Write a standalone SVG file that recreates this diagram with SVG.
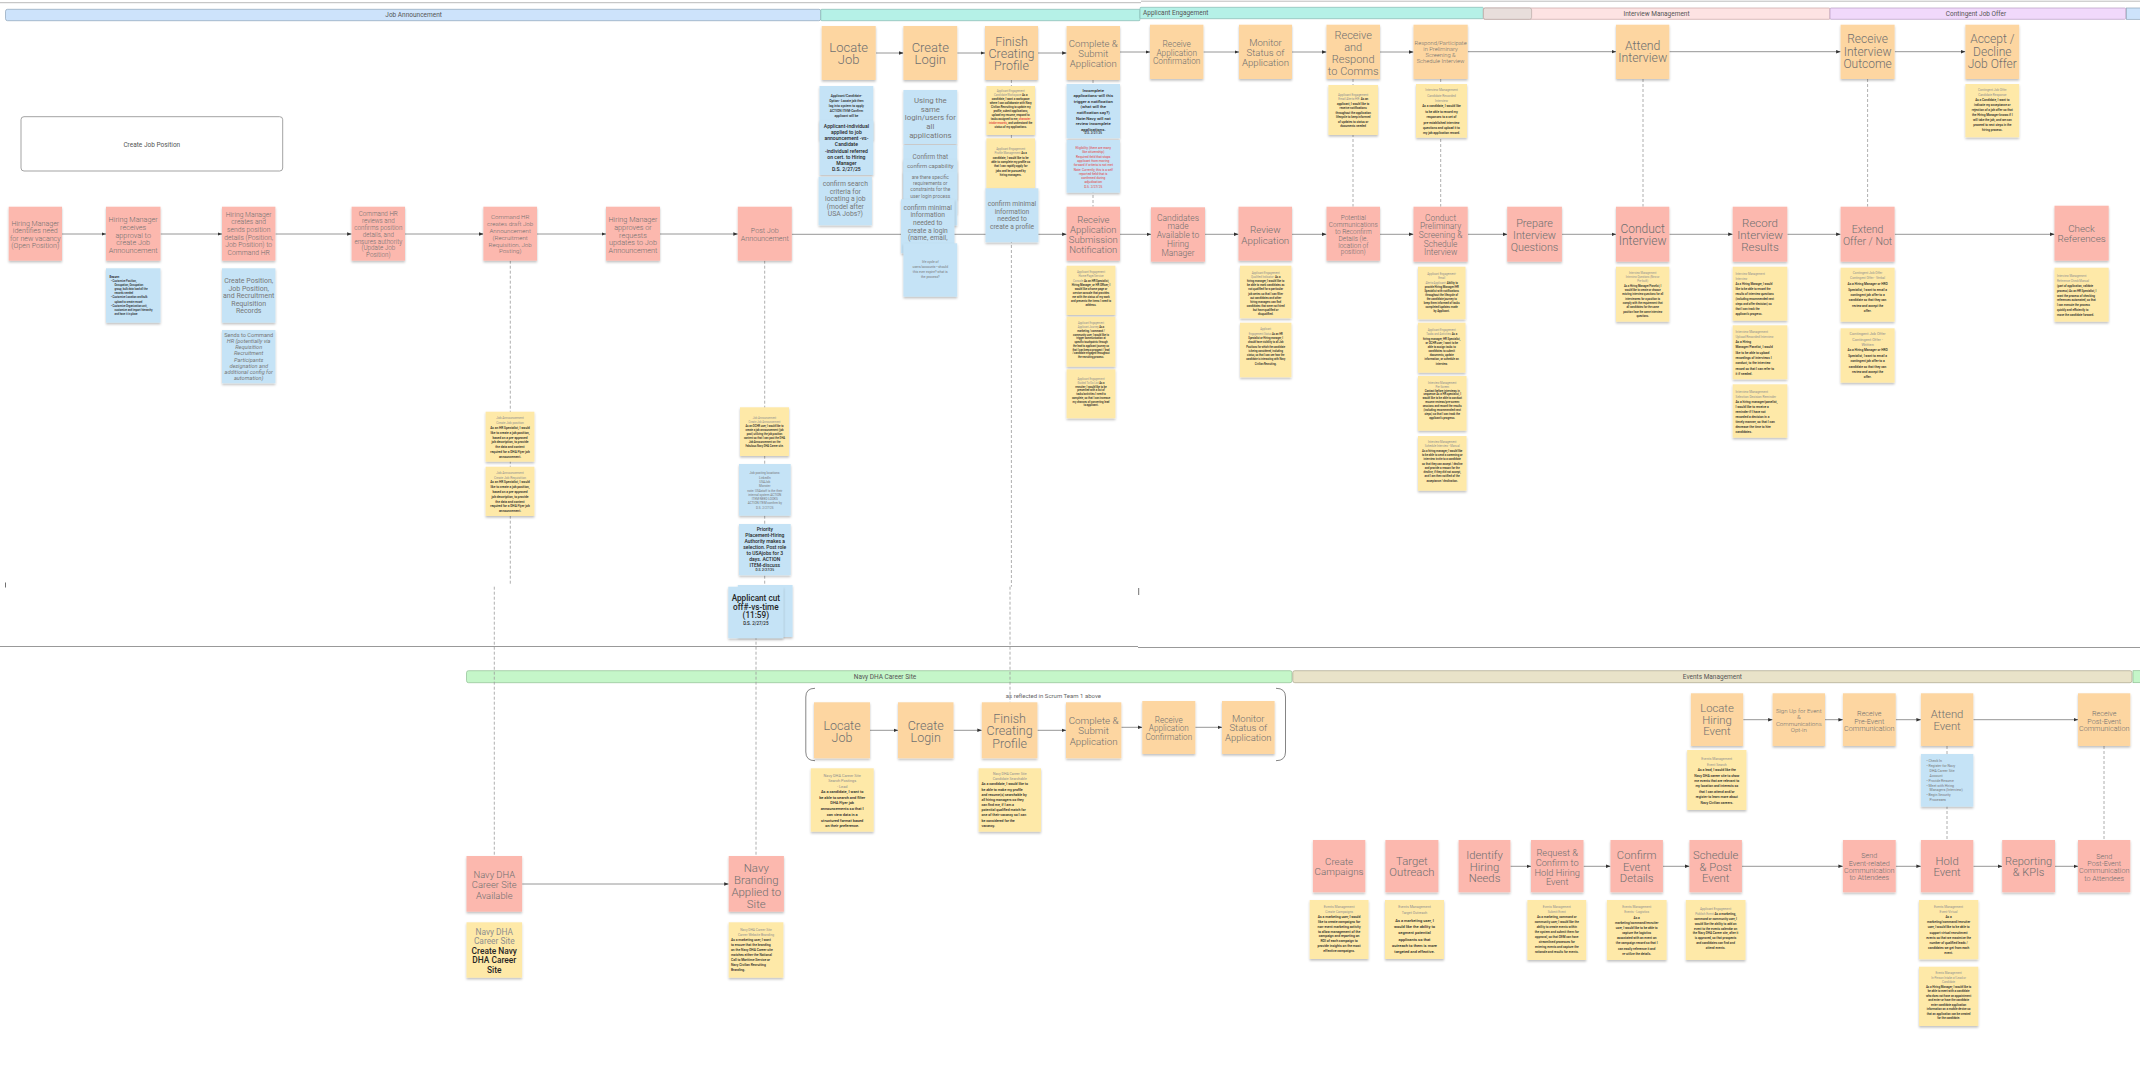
<svg xmlns="http://www.w3.org/2000/svg" width="2140" height="1080" viewBox="0 0 2140 1080">
<defs>
<filter id="sh" x="-10%" y="-10%" width="120%" height="135%"><feDropShadow dx="0" dy="1.6" stdDeviation="1" flood-color="#000" flood-opacity="0.25"/></filter>
<marker id="ah" viewBox="0 0 10 10" refX="10" refY="5" markerUnits="userSpaceOnUse" markerWidth="4.5" markerHeight="4.5" orient="auto"><path d="M0,1 L10,5 L0,9 z" fill="#333"/></marker>
</defs>
<style>
text{font-family:Roboto,'Liberation Sans',sans-serif;dominant-baseline:central;text-anchor:middle}
.o{fill:#fdd6a1;filter:url(#sh)}
.p{fill:#fcb8ae;filter:url(#sh)}
.y{fill:#fee9a8;filter:url(#sh)}
.b{fill:#c5e3f6;filter:url(#sh)}
.nt{fill:#707070;font-weight:300}
.g{fill:#777}
.k{fill:#262626;font-weight:500}
.h{fill:#8f8f8f;font-weight:400}
.r{fill:#e23b3b}
.l{text-anchor:start}
.bt{font-size:6.5px;fill:#555}
.c{fill:none;stroke:#8a8a8a;stroke-width:0.9;marker-end:url(#ah)}
.d{fill:none;stroke:#9a9a9a;stroke-width:0.8;stroke-dasharray:3 2}
</style>
<rect width="2140" height="1080" fill="#fff"/>
<g id="frame">
<line x1="0" y1="2.7" x2="1141" y2="2.7" stroke="#bbb" stroke-width="1"/>
<line x1="1141" y1="1.2" x2="2140" y2="1.2" stroke="#bbb" stroke-width="1"/>
<line x1="0" y1="646.5" x2="1138" y2="646.5" stroke="#999" stroke-width="1.1"/>
<line x1="1138" y1="647.5" x2="2140" y2="647.5" stroke="#999" stroke-width="1.1"/>
<line x1="5.5" y1="582.5" x2="5.5" y2="587.5" stroke="#333" stroke-width="0.7"/>
<line x1="1138.7" y1="588" x2="1138.7" y2="595" stroke="#333" stroke-width="0.7"/>
</g>
<g id="bands">
<rect x="5.5" y="9.3" width="815.3" height="11.4" rx="2" fill="#cde3fb" stroke="#8ea3b8" stroke-width="0.7"/>
<text class="bt" x="413.6" y="15">Job Announcement</text>
<rect x="820.8" y="9.3" width="319.2" height="11.4" rx="1" fill="#b5f1e7" stroke="#86b9b1" stroke-width="0.7"/>
<rect x="1140" y="7.3" width="343.4" height="11.4" rx="1" fill="#b5f1e7" stroke="#86b9b1" stroke-width="0.7"/>
<text class="bt l" x="1143" y="13">Applicant Engagement</text>
<rect x="1483.4" y="8" width="346.6" height="11.3" rx="1" fill="#fde3e3" stroke="#c9a3a3" stroke-width="0.7"/>
<rect x="1483.4" y="8" width="48.2" height="11.3" rx="2" fill="#e8dedb" stroke="#b8aaa6" stroke-width="0.7"/>
<text class="bt" x="1656.5" y="13.6">Interview Management</text>
<rect x="1830" y="8" width="295.7" height="11.3" rx="1" fill="#f1d9fb" stroke="#b69cc2" stroke-width="0.7"/>
<text class="bt" x="1976" y="13.6">Contingent Job Offer</text>
<rect x="2126.5" y="8" width="14" height="11.3" fill="#cde3fb" stroke="#8ea3b8" stroke-width="0.7"/>
<rect x="466.5" y="670.7" width="825.5" height="12" rx="2" fill="#c5f6c9" stroke="#8fbf93" stroke-width="0.7"/>
<text class="bt" x="885" y="676.7">Navy DHA Career Site</text>
<rect x="1292.8" y="670.7" width="839.2" height="12" rx="2" fill="#e9e3c9" stroke="#aaa58c" stroke-width="0.7"/>
<text class="bt" x="1712.4" y="676.7">Events Management</text>
<rect x="2133" y="670.7" width="8" height="12" fill="#c5f6c9" stroke="#8fbf93" stroke-width="0.7"/>
<rect x="21" y="116.7" width="261.7" height="54.3" rx="3" fill="#fff" stroke="#999" stroke-width="0.9"/>
<text class="bt" x="151.8" y="144.7">Create Job Position</text>
<path d="M815 688.3 Q805.8 688.3 805.8 697 L805.8 752 Q805.8 760.7 815 760.7 M1276 688.3 Q1285.5 688.3 1285.5 697 L1285.5 752 Q1285.5 760.7 1276 760.7" fill="none" stroke="#777" stroke-width="0.9"/>
<text x="1053.4" y="695.7" font-size="6" fill="#666">as reflected in Scrum Team 1 above</text>
</g>
<g id="connectors">
<path class="c" d="M876 53H903.4"/>
<path class="c" d="M957.2 53H985"/>
<path class="c" d="M1038 53H1066.6"/>
<path class="c" d="M1120 52H1150"/>
<path class="c" d="M1203.4 52H1239"/>
<path class="c" d="M1292 52H1326.5"/>
<path class="c" d="M1380 52H1413.5"/>
<path class="c" d="M1467.7 51.7H1616"/>
<path class="c" d="M1669.3 51.7H1840.6"/>
<path class="c" d="M1894.7 51.7H1965.4"/>
<path class="c" d="M62 234H106"/>
<path class="c" d="M160.5 234H222"/>
<path class="c" d="M275.4 234H351.6"/>
<path class="c" d="M405 234H483.4"/>
<path class="c" d="M537 234H606"/>
<path class="c" d="M660 234H737.8"/>
<path class="c" d="M791.7 234.3H1066.6"/>
<path class="c" d="M1120 234.3H1151"/>
<path class="c" d="M1205 234.3H1238.5"/>
<path class="c" d="M1292 234.3H1326.5"/>
<path class="c" d="M1380 234.3H1413.5"/>
<path class="c" d="M1467.7 234.3H1507.2"/>
<path class="c" d="M1561.9 234.3H1616"/>
<path class="c" d="M1669.3 234.3H1732.7"/>
<path class="c" d="M1787.3 234.3H1840.6"/>
<path class="c" d="M1894.7 234.3H2054.5"/>
<path class="c" d="M522.1 884H728.7" stroke="#bbb"/>
<path class="c" d="M870 730.3H898"/>
<path class="c" d="M953.5 730.3H981.8"/>
<path class="c" d="M1037.4 730.3H1066"/>
<path class="c" d="M1121.3 727.3H1142.3"/>
<path class="c" d="M1195.2 727.3H1222"/>
<path class="c" d="M1510.4 866.3H1531"/>
<path class="c" d="M1583.5 866.3H1610.5"/>
<path class="c" d="M1662.9 866.3H1689.5"/>
<path class="c" d="M1741.9 866.3H1842.9"/>
<path class="c" d="M1895.7 866.3H1920.9"/>
<path class="c" d="M1973.3 866.3H2002.2"/>
<path class="c" d="M2055 866.3H2078"/>
<path class="c" d="M1743.2 719.7H1772.6"/>
<path class="c" d="M1825 719.7H1842.9"/>
<path class="c" d="M1895.7 719.7H1920.9"/>
<path class="c" d="M1973.3 719.7H2078"/>
<path class="d" d="M510.3 260.7V585"/>
<path class="d" d="M494.3 586.7V856"/>
<path class="d" d="M764.7 260.7V586.7"/>
<path class="d" d="M756 586.7V856"/>
<path class="d" d="M1011.4 80V586.7"/>
<path class="d" d="M1010 586.7V702.3"/>
<path class="d" d="M1093 80V206.7"/>
<path class="d" d="M1353 79V206.7"/>
<path class="d" d="M1440.7 79V206.7"/>
<path class="d" d="M1643 79V206.7"/>
<path class="d" d="M1867.6 79V206.7"/>
<path class="d" d="M1947 746V840"/>
<path class="d" d="M2104 746V840"/>
</g>
<g id="n-locate-job"><rect class="o" x="821.7" y="26" width="54" height="54"/><text class="nt" font-size="13"><tspan x="848.7" y="47.3">Locate</tspan><tspan x="848.7" y="59">Job</tspan></text></g>
<g id="n-create-login"><rect class="o" x="903.4" y="26" width="53.8" height="54"/><text class="nt" font-size="13"><tspan x="930.3" y="47.3">Create</tspan><tspan x="930.3" y="59">Login</tspan></text></g>
<g id="n-finish-profile"><rect class="o" x="985" y="26" width="53" height="54"/><text class="nt" font-size="12.5"><tspan x="1011.5" y="40.7">Finish</tspan><tspan x="1011.5" y="53">Creating</tspan><tspan x="1011.5" y="64.7">Profile</tspan></text></g>
<g id="n-complete-submit"><rect class="o" x="1066.6" y="26" width="53.4" height="54"/><text class="nt" font-size="9.6"><tspan x="1093.3" y="43">Complete &amp;</tspan><tspan x="1093.3" y="53">Submit</tspan><tspan x="1093.3" y="63.3">Application</tspan></text></g>
<g id="n-receive-conf"><rect class="o" x="1150" y="24.7" width="53.4" height="54.3"/><text class="nt" font-size="8.3"><tspan x="1176.7" y="44.3">Receive</tspan><tspan x="1176.7" y="52.7">Application</tspan><tspan x="1176.7" y="61.3">Confirmation</tspan></text></g>
<g id="n-monitor"><rect class="o" x="1239" y="24.7" width="53" height="54.3"/><text class="nt" font-size="9.6"><tspan x="1265.5" y="41.7">Monitor</tspan><tspan x="1265.5" y="52">Status of</tspan><tspan x="1265.5" y="62">Application</tspan></text></g>
<g id="n-respond-comms"><rect class="o" x="1326.5" y="24.7" width="53.5" height="54.3"/><text class="nt" font-size="11"><tspan x="1353.2" y="35">Receive</tspan><tspan x="1353.2" y="47.3">and</tspan><tspan x="1353.2" y="59.3">Respond</tspan><tspan x="1353.2" y="71.3">to Comms</tspan></text></g>
<g id="n-respond-participate"><rect class="o" x="1413.5" y="24.7" width="54.2" height="54.3"/><text class="nt" font-size="5.8"><tspan x="1440.6" y="42.7">Respond/Participate</tspan><tspan x="1440.6" y="49">in Preliminary</tspan><tspan x="1440.6" y="55.3">Screening &amp;</tspan><tspan x="1440.6" y="61.3">Schedule Interview</tspan></text></g>
<g id="n-attend-interview"><rect class="o" x="1616" y="24.7" width="53.3" height="54.3"/><text class="nt" font-size="12.3"><tspan x="1642.7" y="46">Attend</tspan><tspan x="1642.7" y="58">Interview</tspan></text></g>
<g id="n-receive-outcome"><rect class="o" x="1840.6" y="24.7" width="54" height="54.3"/><text class="nt" font-size="12"><tspan x="1867.6" y="39.3">Receive</tspan><tspan x="1867.6" y="51.7">Interview</tspan><tspan x="1867.6" y="63.7">Outcome</tspan></text></g>
<g id="n-accept-decline"><rect class="o" x="1965.4" y="24.7" width="53.8" height="54.3"/><text class="nt" font-size="12"><tspan x="1992.3" y="39.3">Accept /</tspan><tspan x="1992.3" y="51.7">Decline</tspan><tspan x="1992.3" y="63.7">Job Offer</tspan></text></g>
<g id="n-hm-identifies"><rect class="p" x="8.7" y="206.7" width="53.3" height="54"/><text class="nt" font-size="7.1"><tspan x="35.3" y="222.7">Hiring Manager</tspan><tspan x="35.3" y="230.3">identifies need</tspan><tspan x="35.3" y="237.7">for new vacancy</tspan><tspan x="35.3" y="245.3">(Open Position)</tspan></text></g>
<g id="n-hm-receives"><rect class="p" x="106" y="206.7" width="54.5" height="54"/><text class="nt" font-size="7.3"><tspan x="133.2" y="219.3">Hiring Manager</tspan><tspan x="133.2" y="227">receives</tspan><tspan x="133.2" y="234.7">approval to</tspan><tspan x="133.2" y="242.3">create Job</tspan><tspan x="133.2" y="250">Announcement</tspan></text></g>
<g id="n-hm-creates"><rect class="p" x="222" y="206.7" width="53.4" height="54"/><text class="nt" font-size="6.8"><tspan x="248.7" y="215">Hiring Manager</tspan><tspan x="248.7" y="222.3">creates and</tspan><tspan x="248.7" y="230">sends position</tspan><tspan x="248.7" y="237.7">details (Position,</tspan><tspan x="248.7" y="245.3">Job Position) to</tspan><tspan x="248.7" y="252.7">Command HR</tspan></text></g>
<g id="n-chr-reviews"><rect class="p" x="351.6" y="206.7" width="53.4" height="54"/><text class="nt" font-size="6.3"><tspan x="378.3" y="214.3">Command HR</tspan><tspan x="378.3" y="221.2">reviews and</tspan><tspan x="378.3" y="228">confirms position</tspan><tspan x="378.3" y="234.7">details, and</tspan><tspan x="378.3" y="241.6">ensures authority</tspan><tspan x="378.3" y="248.3">(Update Job</tspan><tspan x="378.3" y="255">Position)</tspan></text></g>
<g id="n-chr-draft"><rect class="p" x="483.4" y="206.7" width="53.6" height="54"/><text class="nt" font-size="6.2"><tspan x="510.2" y="217.3">Command HR</tspan><tspan x="510.2" y="224.2">creates draft Job</tspan><tspan x="510.2" y="231">Announcement</tspan><tspan x="510.2" y="237.8">(Recruitment</tspan><tspan x="510.2" y="244.6">Requisition, Job</tspan><tspan x="510.2" y="251.4">Posting)</tspan></text></g>
<g id="n-hm-approves"><rect class="p" x="606" y="206.7" width="54" height="54"/><text class="nt" font-size="7.3"><tspan x="633" y="219.3">Hiring Manager</tspan><tspan x="633" y="227">approves or</tspan><tspan x="633" y="234.7">requests</tspan><tspan x="633" y="242.3">updates to Job</tspan><tspan x="633" y="250">Announcement</tspan></text></g>
<g id="n-post-job"><rect class="p" x="737.8" y="206.7" width="54" height="54"/><text class="nt" font-size="7.2"><tspan x="764.8" y="230">Post Job</tspan><tspan x="764.8" y="237.7">Announcement</tspan></text></g>
<g id="n-receive-submission"><rect class="p" x="1066.6" y="206.7" width="53.4" height="54"/><text class="nt" font-size="9.5"><tspan x="1093.3" y="219">Receive</tspan><tspan x="1093.3" y="229.3">Application</tspan><tspan x="1093.3" y="239.3">Submission</tspan><tspan x="1093.3" y="249.3">Notification</tspan></text></g>
<g id="n-candidates"><rect class="p" x="1151" y="207.3" width="54" height="54.4"/><text class="nt" font-size="8.5"><tspan x="1178" y="217.7">Candidates</tspan><tspan x="1178" y="226.4">made</tspan><tspan x="1178" y="235">Available to</tspan><tspan x="1178" y="243.8">Hiring</tspan><tspan x="1178" y="252.6">Manager</tspan></text></g>
<g id="n-review-app"><rect class="p" x="1238.5" y="206.7" width="53.5" height="54"/><text class="nt" font-size="9.8"><tspan x="1265.3" y="229.3">Review</tspan><tspan x="1265.3" y="239.7">Application</tspan></text></g>
<g id="n-potential"><rect class="p" x="1326.5" y="206.7" width="53.5" height="54"/><text class="nt" font-size="6.5"><tspan x="1353.3" y="218.3">Potential</tspan><tspan x="1353.3" y="225">Communications</tspan><tspan x="1353.3" y="231.7">to Reconfirm</tspan><tspan x="1353.3" y="238.7">Details (ie.</tspan><tspan x="1353.3" y="245.7">location of</tspan><tspan x="1353.3" y="252.3">position)</tspan></text></g>
<g id="n-conduct-prelim"><rect class="p" x="1413.5" y="206.7" width="54.2" height="55"/><text class="nt" font-size="8.4"><tspan x="1440.6" y="217.7">Conduct</tspan><tspan x="1440.6" y="226.3">Preliminary</tspan><tspan x="1440.6" y="235">Screening &amp;</tspan><tspan x="1440.6" y="243.7">Schedule</tspan><tspan x="1440.6" y="252.3">Interview</tspan></text></g>
<g id="n-prepare"><rect class="p" x="1507.2" y="206.7" width="54.7" height="55"/><text class="nt" font-size="10.8"><tspan x="1534.5" y="222.7">Prepare</tspan><tspan x="1534.5" y="234.7">Interview</tspan><tspan x="1534.5" y="246.7">Questions</tspan></text></g>
<g id="n-conduct-interview"><rect class="p" x="1616" y="206.7" width="53.3" height="55"/><text class="nt" font-size="12"><tspan x="1642.7" y="228.7">Conduct</tspan><tspan x="1642.7" y="240.7">Interview</tspan></text></g>
<g id="n-record"><rect class="p" x="1732.7" y="206.7" width="54.6" height="55"/><text class="nt" font-size="11.5"><tspan x="1760" y="222.7">Record</tspan><tspan x="1760" y="234.7">Interview</tspan><tspan x="1760" y="246.7">Results</tspan></text></g>
<g id="n-extend"><rect class="p" x="1840.6" y="206.7" width="54" height="55"/><text class="nt" font-size="10.6"><tspan x="1867.6" y="228.7">Extend</tspan><tspan x="1867.6" y="240.7">Offer / Not</tspan></text></g>
<g id="n-check-ref"><rect class="p" x="2054.5" y="205.7" width="54.2" height="55"/><text class="nt" font-size="9.8"><tspan x="2081.6" y="227.7">Check</tspan><tspan x="2081.6" y="237.7">References</tspan></text></g>
<g id="n-navy-available"><rect class="p" x="466.5" y="856" width="55.6" height="55.7"/><text class="nt" font-size="9.4"><tspan x="494.3" y="874">Navy DHA</tspan><tspan x="494.3" y="884.3">Career Site</tspan><tspan x="494.3" y="894.7">Available</tspan></text></g>
<g id="n-navy-branding"><rect class="p" x="728.7" y="856" width="55.2" height="55.7"/><text class="nt" font-size="11.4"><tspan x="756.3" y="867.7">Navy</tspan><tspan x="756.3" y="879.7">Branding</tspan><tspan x="756.3" y="891.7">Applied to</tspan><tspan x="756.3" y="904">Site</tspan></text></g>
<g id="n2-locate-job"><rect class="o" x="814" y="702.3" width="56" height="56"/><text class="nt" font-size="12.5"><tspan x="842" y="724.7">Locate</tspan><tspan x="842" y="736.7">Job</tspan></text></g>
<g id="n2-create-login"><rect class="o" x="898" y="702.3" width="55.5" height="56"/><text class="nt" font-size="12.5"><tspan x="925.7" y="724.7">Create</tspan><tspan x="925.7" y="736.7">Login</tspan></text></g>
<g id="n2-finish-profile"><rect class="o" x="981.8" y="702.3" width="55.6" height="56"/><text class="nt" font-size="12.5"><tspan x="1009.6" y="718.3">Finish</tspan><tspan x="1009.6" y="730.3">Creating</tspan><tspan x="1009.6" y="742.7">Profile</tspan></text></g>
<g id="n2-complete-submit"><rect class="o" x="1066" y="702.3" width="55.3" height="56"/><text class="nt" font-size="9.8"><tspan x="1093.6" y="720.3">Complete &amp;</tspan><tspan x="1093.6" y="730.3">Submit</tspan><tspan x="1093.6" y="741">Application</tspan></text></g>
<g id="n2-receive-conf"><rect class="o" x="1142.3" y="701" width="53" height="53"/><text class="nt" font-size="8.2"><tspan x="1168.8" y="720">Receive</tspan><tspan x="1168.8" y="728.3">Application</tspan><tspan x="1168.8" y="736.7">Confirmation</tspan></text></g>
<g id="n2-monitor"><rect class="o" x="1222" y="701" width="52.6" height="53"/><text class="nt" font-size="9.5"><tspan x="1248.3" y="717.7">Monitor</tspan><tspan x="1248.3" y="727.3">Status of</tspan><tspan x="1248.3" y="737.3">Application</tspan></text></g>
<g id="n-create-campaigns"><rect class="p" x="1312.9" y="840" width="52.4" height="52.3"/><text class="nt" font-size="9.8"><tspan x="1339.1" y="861">Create</tspan><tspan x="1339.1" y="871">Campaigns</tspan></text></g>
<g id="n-target-outreach"><rect class="p" x="1385.4" y="840" width="53" height="52.3"/><text class="nt" font-size="11.3"><tspan x="1411.9" y="861">Target</tspan><tspan x="1411.9" y="872.3">Outreach</tspan></text></g>
<g id="n-identify"><rect class="p" x="1458.6" y="840" width="51.8" height="52.3"/><text class="nt" font-size="11.3"><tspan x="1484.5" y="855">Identify</tspan><tspan x="1484.5" y="866.7">Hiring</tspan><tspan x="1484.5" y="878">Needs</tspan></text></g>
<g id="n-request-confirm"><rect class="p" x="1531" y="840" width="52.5" height="52.3"/><text class="nt" font-size="9.3"><tspan x="1557.2" y="852.3">Request &amp;</tspan><tspan x="1557.2" y="862">Confirm to</tspan><tspan x="1557.2" y="871.7">Hold Hiring</tspan><tspan x="1557.2" y="881.3">Event</tspan></text></g>
<g id="n-confirm-details"><rect class="p" x="1610.5" y="840" width="52.4" height="52.3"/><text class="nt" font-size="11.3"><tspan x="1636.7" y="855">Confirm</tspan><tspan x="1636.7" y="866.7">Event</tspan><tspan x="1636.7" y="878">Details</tspan></text></g>
<g id="n-schedule-post"><rect class="p" x="1689.5" y="840" width="52.4" height="52.3"/><text class="nt" font-size="11.3"><tspan x="1715.7" y="855">Schedule</tspan><tspan x="1715.7" y="866.7">&amp; Post</tspan><tspan x="1715.7" y="878">Event</tspan></text></g>
<g id="n-send-event-comm"><rect class="p" x="1842.9" y="840" width="52.8" height="52.3"/><text class="nt" font-size="7.2"><tspan x="1869.3" y="855.3">Send</tspan><tspan x="1869.3" y="862.7">Event-related</tspan><tspan x="1869.3" y="870">Communication</tspan><tspan x="1869.3" y="877.3">to Attendees</tspan></text></g>
<g id="n-hold-event"><rect class="p" x="1920.9" y="840" width="52.4" height="52.3"/><text class="nt" font-size="11.3"><tspan x="1947.1" y="861">Hold</tspan><tspan x="1947.1" y="872.3">Event</tspan></text></g>
<g id="n-reporting"><rect class="p" x="2002.2" y="840" width="52.8" height="52.3"/><text class="nt" font-size="11"><tspan x="2028.6" y="861">Reporting</tspan><tspan x="2028.6" y="872.3">&amp; KPIs</tspan></text></g>
<g id="n-send-post"><rect class="p" x="2078" y="840" width="52.3" height="52.3"/><text class="nt" font-size="7.2"><tspan x="2104.2" y="855.7">Send</tspan><tspan x="2104.2" y="863">Post-Event</tspan><tspan x="2104.2" y="870.3">Communication</tspan><tspan x="2104.2" y="877.7">to Attendees</tspan></text></g>
<g id="n-locate-hiring-event"><rect class="o" x="1690.9" y="693.3" width="52.3" height="52.7"/><text class="nt" font-size="11.3"><tspan x="1717" y="708">Locate</tspan><tspan x="1717" y="719.7">Hiring</tspan><tspan x="1717" y="731.3">Event</tspan></text></g>
<g id="n-sign-up"><rect class="o" x="1772.6" y="693.3" width="52.4" height="52.7"/><text class="nt" font-size="6.1"><tspan x="1798.8" y="710">Sign Up for Event</tspan><tspan x="1798.8" y="716.3">&amp;</tspan><tspan x="1798.8" y="723">Communications</tspan><tspan x="1798.8" y="729.3">Opt-in</tspan></text></g>
<g id="n-receive-pre"><rect class="o" x="1842.9" y="693.3" width="52.8" height="52.7"/><text class="nt" font-size="7.2"><tspan x="1869.3" y="713">Receive</tspan><tspan x="1869.3" y="720.7">Pre-Event</tspan><tspan x="1869.3" y="728">Communication</tspan></text></g>
<g id="n-attend-event"><rect class="o" x="1920.9" y="693.3" width="52.4" height="52.7"/><text class="nt" font-size="11.3"><tspan x="1947.1" y="714">Attend</tspan><tspan x="1947.1" y="725.7">Event</tspan></text></g>
<g id="n-receive-post"><rect class="o" x="2078" y="693.3" width="52.3" height="52.7"/><text class="nt" font-size="7.2"><tspan x="2104.2" y="713">Receive</tspan><tspan x="2104.2" y="720.7">Post-Event</tspan><tspan x="2104.2" y="728">Communication</tspan></text></g>
<g id="s1"><rect class="b" x="106" y="268.3" width="54.5" height="54.4"/><text class="k l" font-size="2.7"><tspan x="109.5" y="276.5" font-weight="700" font-size="3">Ensure:</tspan><tspan x="111" y="281">• Customize Position,</tspan><tspan x="114.5" y="285.1">Occupation, Occupation</tspan><tspan x="114.5" y="289.2">group, bulk data load all the</tspan><tspan x="114.5" y="293.3">records needed</tspan><tspan x="111" y="297.4">• Customize Location and bulk</tspan><tspan x="114.5" y="301.5">upload to create record</tspan><tspan x="111" y="305.6">• Customize Organization unit,</tspan><tspan x="114.5" y="309.7">customize and import hierarchy</tspan><tspan x="114.5" y="313.8">and have it in place</tspan></text></g>
<g id="s2"><rect class="b" x="222" y="268.3" width="53.4" height="54.4"/><text class="g" font-size="7"><tspan x="248.7" y="281">Create Position,</tspan><tspan x="248.7" y="288.7">Job Position,</tspan><tspan x="248.7" y="296.3">and Recruitment</tspan><tspan x="248.7" y="303.7">Requisition</tspan><tspan x="248.7" y="311.3">Records</tspan></text></g>
<g id="s3"><rect class="b" x="222" y="330" width="53.4" height="53.3"/><text class="g" font-size="5.6"><tspan x="248.7" y="335">Sends to Command</tspan><tspan x="248.7" y="341.3" font-style="italic">HR (potentially via</tspan><tspan x="248.7" y="347.3" font-style="italic">Requisition</tspan><tspan x="248.7" y="353.3" font-style="italic">Recruitment</tspan><tspan x="248.7" y="359.7" font-style="italic">Participants</tspan><tspan x="248.7" y="365.7" font-style="italic">designation and</tspan><tspan x="248.7" y="371.7" font-style="italic">additional config for</tspan><tspan x="248.7" y="377.7" font-style="italic">automation)</tspan></text></g>
<g id="s4"><rect class="y" x="485.6" y="411.7" width="48.8" height="50"/><text class="k" font-size="3.2"><tspan class="h" x="510" y="418.3">Job Announcement</tspan><tspan class="h" x="510" y="423">Create Job position</tspan><tspan x="510" y="428">As an HR Specialist, I would</tspan><tspan x="510" y="432.7">like to create a job position,</tspan><tspan x="510" y="437.7">based on a pre-approved</tspan><tspan x="510" y="442.3">job description, to provide</tspan><tspan x="510" y="447">the data and content</tspan><tspan x="510" y="452">required for a DHA Flyer job</tspan><tspan x="510" y="456.7">announcement.</tspan></text></g>
<g id="s5"><rect class="y" x="485.6" y="466.7" width="48.8" height="49.3"/><text class="k" font-size="3.2"><tspan class="h" x="510" y="472.7">Job Announcement</tspan><tspan class="h" x="510" y="477.5">Create Job Requisition</tspan><tspan x="510" y="482.3">As an HR Specialist, I would</tspan><tspan x="510" y="487.1">like to create a job position,</tspan><tspan x="510" y="491.9">based on a pre-approved</tspan><tspan x="510" y="496.7">job description, to provide</tspan><tspan x="510" y="501.5">the data and content</tspan><tspan x="510" y="506.3">required for a DHA Flyer job</tspan><tspan x="510" y="511.1">announcement.</tspan></text></g>
<g id="s6"><rect class="y" x="740" y="407.3" width="49" height="48.7"/><text class="k" font-size="2.7"><tspan class="h" x="764.5" y="418.3">Job Announcement</tspan><tspan class="h" x="764.5" y="422.2">Create Job Announcement</tspan><tspan x="764.5" y="426.1">As an OCHR user, I would like to</tspan><tspan x="764.5" y="430">create a job announcement (job</tspan><tspan x="764.5" y="433.9">post) utilizing the job position</tspan><tspan x="764.5" y="437.8">content so that I can post the DHA</tspan><tspan x="764.5" y="441.7">Job Announcement on the</tspan><tspan x="764.5" y="445.6">Fabulous Navy DHA Career site.</tspan></text></g>
<g id="s7"><rect class="b" x="739" y="464" width="51.7" height="51.7"/><text class="g" font-size="3.1"><tspan x="764.8" y="473.3">Job posting locations:</tspan><tspan x="764.8" y="477.6">LinkedIn</tspan><tspan x="764.8" y="481.9">USAJob</tspan><tspan x="764.8" y="486.2">Monster</tspan><tspan x="764.8" y="490.5">note: USAstaff is the their</tspan><tspan x="764.8" y="494.8">internal system ACTION</tspan><tspan x="764.8" y="499.1">ITEM-NEED LOOKS</tspan><tspan x="764.8" y="503.4">ACTION ITEM confirm by</tspan><tspan x="764.8" y="507.7">D.S. 2/27/25</tspan></text></g>
<g id="s8"><rect class="b" x="739" y="524" width="51.7" height="51.3"/><text class="k" font-size="5" font-weight="400"><tspan x="764.8" y="529.3">Priority</tspan><tspan x="764.8" y="535.3">Placement-Hiring</tspan><tspan x="764.8" y="541.3">Authority makes a</tspan><tspan x="764.8" y="547.3">selection. Post role</tspan><tspan x="764.8" y="553">to USAjobs for 3</tspan><tspan x="764.8" y="559">days. ACTION</tspan><tspan x="764.8" y="565">ITEM-discuss</tspan><tspan x="764.8" y="570.3" font-size="3.3">D.S. 2/27/25</tspan></text></g>
<g id="s9"><rect class="b" x="737.8" y="585" width="54.8" height="52"/></g>
<g id="s10"><rect class="b" x="728.3" y="586.7" width="55.1" height="51.6"/><text class="k" font-size="8.2" font-weight="400"><tspan x="755.8" y="597.7">Applicant cut</tspan><tspan x="755.8" y="606.7">off#-vs-time</tspan><tspan x="755.8" y="615">(11:59)</tspan><tspan x="755.8" y="623.3" font-size="4.5">D.S. 2/27/25</tspan></text></g>
<g id="s11"><rect class="b" x="819.5" y="86" width="53.8" height="54"/><text class="k" font-size="3.3"><tspan x="846.4" y="95.7">Applicant/Candidate-</tspan><tspan x="846.4" y="100.7">Option- Locate job then</tspan><tspan x="846.4" y="105.7">log into system to apply</tspan><tspan x="846.4" y="110.7">ACTION ITEM-Confirm</tspan><tspan x="846.4" y="116">applicant will be</tspan></text></g>
<g id="s12"><rect class="b" x="819.5" y="120.7" width="53.8" height="54.3"/><text class="k" font-size="5.1"><tspan x="846.4" y="126.3">Applicant-individual</tspan><tspan x="846.4" y="132.3">applied to job</tspan><tspan x="846.4" y="138.3">announcement -vs-</tspan><tspan x="846.4" y="144.3">Candidate</tspan><tspan x="846.4" y="150.7">-individual referred</tspan><tspan x="846.4" y="156.7">on cert. to Hiring</tspan><tspan x="846.4" y="162.7">Manager</tspan><tspan x="846.4" y="169">D.S. 2/27/25</tspan></text></g>
<g id="s13"><rect class="b" x="818.6" y="176.7" width="53.3" height="48.6"/><text class="g" font-size="6.8"><tspan x="845.3" y="184">confirm search</tspan><tspan x="845.3" y="191.7">criteria for</tspan><tspan x="845.3" y="199.3">locating a job</tspan><tspan x="845.3" y="206.7">(model after</tspan><tspan x="845.3" y="214.3">USA Jobs?)</tspan></text></g>
<g id="s14"><rect class="b" x="903.4" y="90" width="53.8" height="54"/><text class="g" font-size="7.8"><tspan x="930.3" y="100">Using the</tspan><tspan x="930.3" y="108.7">same</tspan><tspan x="930.3" y="117.3">login/users for</tspan><tspan x="930.3" y="126">all</tspan><tspan x="930.3" y="134.7">applications</tspan></text></g>
<g id="s15a"><rect class="b" x="903.4" y="145" width="53.8" height="54"/><text class="g" font-size="6.4"><tspan x="930.3" y="156.7">Confirm that</tspan></text></g>
<g id="s15b"><rect class="b" x="903.4" y="159.5" width="53.8" height="54"/><text class="g" font-size="5.9"><tspan x="930.3" y="165.7">confirm capability</tspan></text></g>
<g id="s15c"><rect class="b" x="903.4" y="171.5" width="53.8" height="54"/><text class="g" font-size="4.9"><tspan x="930.3" y="177.3">are there specific</tspan><tspan x="930.3" y="183.3">requirements or</tspan><tspan x="930.3" y="189.3">constraints for the</tspan><tspan x="930.3" y="195.7">user login process</tspan></text></g>
<g id="s16"><rect class="b" x="901" y="199.3" width="53.5" height="54"/><text class="g" font-size="6.7"><tspan x="927.7" y="207.7">confirm minimal</tspan><tspan x="927.7" y="215.3">information</tspan><tspan x="927.7" y="223">needed to</tspan><tspan x="927.7" y="230.7">create a login</tspan><tspan x="927.7" y="238.3">(name, email,</tspan></text></g>
<g id="s17"><rect class="b" x="903.4" y="243.3" width="53.8" height="53.4"/><text class="g" font-size="3.3"><tspan x="930.3" y="261.7">life cycle of</tspan><tspan x="930.3" y="267">users/accounts—should</tspan><tspan x="930.3" y="272">this ever expire? what is</tspan><tspan x="930.3" y="277.3">the process?</tspan></text></g>
<g id="s18"><rect class="y" x="986.4" y="86" width="48.6" height="49"/><text class="k" font-size="2.8"><tspan class="h" x="1010.7" y="90.7">Applicant Engagement</tspan><tspan x="1010.7" y="94.7"><tspan class="h">Candidate Workspace</tspan> As a</tspan><tspan x="1010.7" y="98.7">candidate, I want a workspace</tspan><tspan x="1010.7" y="102.7">where I can collaborate with Navy</tspan><tspan x="1010.7" y="106.7">Civilian Recruiting to update my</tspan><tspan x="1010.7" y="110.7">profile, submit applications,</tspan><tspan x="1010.7" y="114.7">upload my resume, respond to</tspan><tspan x="1010.7" y="118.7">tasks assigned to me, <tspan class="r">character</tspan></tspan><tspan x="1010.7" y="122.7"><tspan class="r">intake records</tspan>, and understand the</tspan><tspan x="1010.7" y="126.7">status of my applications.</tspan></text></g>
<g id="s19"><rect class="y" x="986.4" y="138.3" width="48.6" height="50"/><text class="k" font-size="2.9"><tspan class="h" x="1010.7" y="149">Applicant Engagement</tspan><tspan x="1010.7" y="153.3"><tspan class="h">Profile Management</tspan> As a</tspan><tspan x="1010.7" y="157.6">candidate, I would like to be</tspan><tspan x="1010.7" y="161.9">able to complete my profile so</tspan><tspan x="1010.7" y="166.2">that I can rapidly apply for</tspan><tspan x="1010.7" y="170.5">jobs and be pursued by</tspan><tspan x="1010.7" y="174.8">hiring managers.</tspan></text></g>
<g id="s20"><rect class="b" x="985.5" y="188.3" width="52.9" height="54"/><text class="g" font-size="6.7"><tspan x="1012" y="204">confirm minimal</tspan><tspan x="1012" y="211.7">information</tspan><tspan x="1012" y="219.3">needed to</tspan><tspan x="1012" y="227">create a profile</tspan></text></g>
<g id="s21"><rect class="b" x="1066.6" y="84" width="53.4" height="54.3"/><text class="k" font-size="4.3"><tspan x="1093.3" y="89.7">Incomplete</tspan><tspan x="1093.3" y="95.3">applications-will this</tspan><tspan x="1093.3" y="100.7">trigger a notification</tspan><tspan x="1093.3" y="106.3">(what will the</tspan><tspan x="1093.3" y="112">notification say?)</tspan><tspan x="1093.3" y="117.7">Note:Navy will not</tspan><tspan x="1093.3" y="123.3">review incomplete</tspan><tspan x="1093.3" y="128.7">applications.</tspan><tspan x="1093.3" y="133.3" font-size="3.1">D.S. 2/27/25</tspan></text></g>
<g id="s22"><rect class="b" x="1066.6" y="140" width="53.4" height="52.7"/><text class="r" font-size="3.2"><tspan x="1093.3" y="148">Eligibility (there are many</tspan><tspan x="1093.3" y="152.3">like citizenship)</tspan><tspan x="1093.3" y="156.6">Required field that stops</tspan><tspan x="1093.3" y="160.9">applicant from moving</tspan><tspan x="1093.3" y="165.2">forward if criteria is not met</tspan><tspan x="1093.3" y="169.5">Note: Currently, this is a self</tspan><tspan x="1093.3" y="173.8">reported field that is</tspan><tspan x="1093.3" y="178.1">confirmed during</tspan><tspan x="1093.3" y="182.4">adjudication</tspan><tspan x="1093.3" y="186.7">D.S. 2/27/25</tspan></text></g>
<g id="s23"><rect class="y" x="1328.4" y="85" width="49.6" height="50"/><text class="k" font-size="3"><tspan class="h" x="1353.2" y="94.7">Applicant Engagement</tspan><tspan x="1353.2" y="99.2"><tspan class="h">Email Alerts-HR-</tspan> As an</tspan><tspan x="1353.2" y="103.7">applicant, I would like to</tspan><tspan x="1353.2" y="108.2">receive notifications</tspan><tspan x="1353.2" y="112.7">throughout the application</tspan><tspan x="1353.2" y="117.2">lifecycle to keep informed</tspan><tspan x="1353.2" y="121.7">of updates to status or</tspan><tspan x="1353.2" y="126.2">documents needed</tspan></text></g>
<g id="s24"><rect class="y" x="1416" y="84" width="51" height="53.7"/><text class="k" font-size="3.2"><tspan class="h" x="1441.5" y="90.3">Interview Management</tspan><tspan class="h" x="1441.5" y="95.7">Candidate Recorded</tspan><tspan class="h" x="1441.5" y="101">Interview</tspan><tspan x="1441.5" y="106.4">As a candidate, I would like</tspan><tspan x="1441.5" y="111.8">to be able to record my</tspan><tspan x="1441.5" y="117.2">responses to a set of</tspan><tspan x="1441.5" y="122.6">pre-established interview</tspan><tspan x="1441.5" y="128">questions and upload it to</tspan><tspan x="1441.5" y="133.3">my job application record.</tspan></text></g>
<g id="s25"><rect class="y" x="1965.4" y="84" width="53.8" height="53.3"/><text class="k" font-size="3.1"><tspan class="h" x="1992.3" y="89.7">Contingent Job Offer</tspan><tspan class="h" x="1992.3" y="94.8">Candidate Response</tspan><tspan x="1992.3" y="99.8">As a Candidate, I want to</tspan><tspan x="1992.3" y="104.9">indicate my acceptance or</tspan><tspan x="1992.3" y="109.9">rejection of a job offer so that</tspan><tspan x="1992.3" y="115">the Hiring Manager knows if I</tspan><tspan x="1992.3" y="120">will take the job, and we can</tspan><tspan x="1992.3" y="125.1">proceed to next steps in the</tspan><tspan x="1992.3" y="130.1">hiring process.</tspan></text></g>
<g id="s26"><rect class="y" x="1066.6" y="265.7" width="48.8" height="49.3"/><text class="k" font-size="2.8"><tspan class="h" x="1091" y="272.3">Applicant Engagement</tspan><tspan class="h" x="1091" y="276.4">Home Page/Service</tspan><tspan x="1091" y="280.5"><tspan class="h">Console</tspan> As an HR Specialist,</tspan><tspan x="1091" y="284.7">Hiring Manager, or HR Officer, I</tspan><tspan x="1091" y="288.8">would like a home page or</tspan><tspan x="1091" y="292.9">service console that provides</tspan><tspan x="1091" y="297">me with the status of my work</tspan><tspan x="1091" y="301.2">and presents the items I need to</tspan><tspan x="1091" y="305.3">address.</tspan></text></g>
<g id="s27"><rect class="y" x="1066.6" y="316.7" width="48.8" height="50"/><text class="k" font-size="2.6"><tspan class="h" x="1091" y="323.3">Applicant Engagement</tspan><tspan x="1091" y="327"><tspan class="h">Applicant Journey</tspan> As a</tspan><tspan x="1091" y="330.8">marketing / command /</tspan><tspan x="1091" y="334.5">community user, I would like to</tspan><tspan x="1091" y="338.3">trigger communication at</tspan><tspan x="1091" y="342">specific touchpoints through</tspan><tspan x="1091" y="345.7">the lead to applicant journey so</tspan><tspan x="1091" y="349.5">that I can keep a prospect / lead</tspan><tspan x="1091" y="353.2">/ candidate engaged throughout</tspan><tspan x="1091" y="357">the recruiting process.</tspan></text></g>
<g id="s28"><rect class="y" x="1066.6" y="369.3" width="48.8" height="49"/><text class="k" font-size="2.7"><tspan class="h" x="1091" y="379">Applicant Engagement</tspan><tspan x="1091" y="382.8"><tspan class="h">Guided To-Do List</tspan> As a</tspan><tspan x="1091" y="386.5">recruiter, I would like to be</tspan><tspan x="1091" y="390.3">presented with a list of</tspan><tspan x="1091" y="394">tasks/activities I need to</tspan><tspan x="1091" y="397.8">complete, so that I can increase</tspan><tspan x="1091" y="401.6">my chances of converting lead</tspan><tspan x="1091" y="405.3">to applicant.</tspan></text></g>
<g id="s29"><rect class="y" x="1240" y="265.7" width="51.4" height="52.6"/><text class="k" font-size="2.8"><tspan class="h" x="1265.7" y="272.7">Applicant Engagement</tspan><tspan x="1265.7" y="276.9"><tspan class="h">Qualified Indicator-</tspan> As a</tspan><tspan x="1265.7" y="281">hiring manager, I would like to</tspan><tspan x="1265.7" y="285.2">be able to mark candidates as</tspan><tspan x="1265.7" y="289.3">not qualified for a particular</tspan><tspan x="1265.7" y="293.5">job series so that I can filter</tspan><tspan x="1265.7" y="297.7">out candidates and other</tspan><tspan x="1265.7" y="301.8">hiring managers can find</tspan><tspan x="1265.7" y="306">candidates that were not hired</tspan><tspan x="1265.7" y="310.1">but have qualified or</tspan><tspan x="1265.7" y="314.3">disqualified.</tspan></text></g>
<g id="s30"><rect class="y" x="1240" y="322.7" width="51.4" height="54.6"/><text class="k" font-size="2.6"><tspan class="h" x="1265.7" y="329.3">Applicant</tspan><tspan x="1265.7" y="333.6"><tspan class="h">Engagement Status</tspan> As an HR</tspan><tspan x="1265.7" y="337.9">Specialist or Hiring manager, I</tspan><tspan x="1265.7" y="342.2">should have visibility to all Job</tspan><tspan x="1265.7" y="346.5">Positions for which the candidate</tspan><tspan x="1265.7" y="350.8">is being considered, including</tspan><tspan x="1265.7" y="355.1">status, so that I can see how the</tspan><tspan x="1265.7" y="359.4">candidate is interacting with Navy</tspan><tspan x="1265.7" y="363.7">Civilian Recruiting.</tspan></text></g>
<g id="s31"><rect class="y" x="1418" y="266.7" width="47.5" height="52.6"/><text class="k" font-size="2.8"><tspan class="h" x="1441.7" y="274">Applicant Engagement-</tspan><tspan class="h" x="1441.7" y="277.7">Email</tspan><tspan x="1441.7" y="282.7"><tspan class="h">Alerts-Applicant-</tspan> Ability to</tspan><tspan x="1441.7" y="286.7">provide Hiring Manager/HR</tspan><tspan x="1441.7" y="290.7">Specialist with notifications</tspan><tspan x="1441.7" y="294.7">throughout the lifecycle of</tspan><tspan x="1441.7" y="298.7">the candidate journey to</tspan><tspan x="1441.7" y="302.7">keep them informed of tasks</tspan><tspan x="1441.7" y="306.7">completed/updates made</tspan><tspan x="1441.7" y="310.7">by Applicant.</tspan></text></g>
<g id="s32"><rect class="y" x="1418" y="322.7" width="47.5" height="50"/><text class="k" font-size="2.8"><tspan class="h" x="1441.7" y="330">Applicant Engagement</tspan><tspan x="1441.7" y="334"><tspan class="h">Tasks and Activities</tspan> As a</tspan><tspan x="1441.7" y="338.7">hiring manager, HR Specialist,</tspan><tspan x="1441.7" y="342.7">or OCHR user, I want to be</tspan><tspan x="1441.7" y="346.7">able to assign tasks to</tspan><tspan x="1441.7" y="350.7">candidates to submit</tspan><tspan x="1441.7" y="355.3">documents, update</tspan><tspan x="1441.7" y="359.3">information, or schedule an</tspan><tspan x="1441.7" y="364">interview.</tspan></text></g>
<g id="s33"><rect class="y" x="1418" y="376" width="48.5" height="54.7"/><text class="k" font-size="2.8"><tspan class="h" x="1442.2" y="382.7">Interview Management</tspan><tspan class="h" x="1442.2" y="386.6">Pre-Screen</tspan><tspan x="1442.2" y="390.5">Contact before interviews in</tspan><tspan x="1442.2" y="394.4">sequence As a HR specialist, I</tspan><tspan x="1442.2" y="398.3">would like to be able to conduct</tspan><tspan x="1442.2" y="402.2">resume reviews/pre-screen</tspan><tspan x="1442.2" y="406.1">sessions and record the results</tspan><tspan x="1442.2" y="410">(including recommended next</tspan><tspan x="1442.2" y="413.9">steps) so that I can track the</tspan><tspan x="1442.2" y="417.8">applicant's progress.</tspan></text></g>
<g id="s34"><rect class="y" x="1418" y="436" width="48.5" height="54.7"/><text class="k" font-size="2.8"><tspan class="h" x="1442.2" y="442">Interview Management</tspan><tspan class="h" x="1442.2" y="446.3">Schedule Interview - Manual</tspan><tspan x="1442.2" y="450.6">As a hiring manager, I would like</tspan><tspan x="1442.2" y="454.9">to be able to send a screening or</tspan><tspan x="1442.2" y="459.2">interview invite to a candidate</tspan><tspan x="1442.2" y="463.5">so that they can accept / decline</tspan><tspan x="1442.2" y="467.8">and provide a reason for the</tspan><tspan x="1442.2" y="472.1">decline, if they did not accept,</tspan><tspan x="1442.2" y="476.4">and I am then notified of the</tspan><tspan x="1442.2" y="480.7">acceptance / declination.</tspan></text></g>
<g id="s35"><rect class="y" x="1616" y="266.7" width="53.3" height="55"/><text class="k" font-size="2.7"><tspan class="h" x="1642.7" y="272.7">Interview Management</tspan><tspan class="h" x="1642.7" y="277">Interview Questions (New or</tspan><tspan class="h" x="1642.7" y="281.4">Pre-built)</tspan><tspan x="1642.7" y="285.7">As a Hiring Manager/Panelist, I</tspan><tspan x="1642.7" y="290.1">would like to create or choose</tspan><tspan x="1642.7" y="294.4">existing interview questions for all</tspan><tspan x="1642.7" y="298.7">interviewees for a position to</tspan><tspan x="1642.7" y="303.1">comply with the requirement that</tspan><tspan x="1642.7" y="307.4">all candidates for the same</tspan><tspan x="1642.7" y="311.8">position face the same interview</tspan><tspan x="1642.7" y="316.1">questions.</tspan></text></g>
<g id="s36"><rect class="y" x="1732.7" y="266.7" width="54.6" height="54"/><text class="k l" font-size="2.9"><tspan class="h" x="1735.5" y="274">Interview Management</tspan><tspan class="h" x="1735.5" y="279">Interview</tspan><tspan x="1735.5" y="284.1">As a Hiring Manager, I would</tspan><tspan x="1735.5" y="289.1">like to be able to record the</tspan><tspan x="1735.5" y="294.2">results of interview questions</tspan><tspan x="1735.5" y="299.2">(including recommended next</tspan><tspan x="1735.5" y="304.2">steps and offer decision) so</tspan><tspan x="1735.5" y="309.3">that I can track the</tspan><tspan x="1735.5" y="314.3">applicant's progress.</tspan></text></g>
<g id="s37"><rect class="y" x="1732.7" y="325.3" width="54.6" height="54"/><text class="k l" font-size="3.2"><tspan class="h" x="1735.5" y="331.7">Interview Management</tspan><tspan class="h" x="1735.5" y="336.7">Upload Recorded Interview</tspan><tspan x="1735.5" y="342.3">As a Hiring</tspan><tspan x="1735.5" y="347.3">Manager/Panelist, I would</tspan><tspan x="1735.5" y="352.7">like to be able to upload</tspan><tspan x="1735.5" y="358">recordings of interviews I</tspan><tspan x="1735.5" y="363.3">conduct, to the interview</tspan><tspan x="1735.5" y="368.7">record so that I can refer to</tspan><tspan x="1735.5" y="374">it if needed.</tspan></text></g>
<g id="s38"><rect class="y" x="1732.7" y="384.3" width="54.6" height="53.4"/><text class="k l" font-size="3.2"><tspan class="h" x="1735.5" y="392">Interview Management</tspan><tspan class="h" x="1735.5" y="397">Selection Decision Reminder</tspan><tspan x="1735.5" y="401.9">As a hiring manager/panelist,</tspan><tspan x="1735.5" y="406.9">I would like to receive a</tspan><tspan x="1735.5" y="411.8">reminder if I have not</tspan><tspan x="1735.5" y="416.8">recorded a decision in a</tspan><tspan x="1735.5" y="421.8">timely manner, so that I can</tspan><tspan x="1735.5" y="426.7">decrease the time to hire</tspan><tspan x="1735.5" y="431.7">candidates.</tspan></text></g>
<g id="s39"><rect class="y" x="1840.6" y="267.7" width="54" height="54"/><text class="k" font-size="3.2"><tspan class="h" x="1867.6" y="272.7">Contingent Job Offer</tspan><tspan class="h" x="1867.6" y="278.3">Contingent Offer - Verbal</tspan><tspan x="1867.6" y="284.3">As a Hiring Manager or HRO</tspan><tspan x="1867.6" y="289.7">Specialist, I want to email a</tspan><tspan x="1867.6" y="295">contingent job offer to a</tspan><tspan x="1867.6" y="300.3">candidate so that they can</tspan><tspan x="1867.6" y="305.7">review and accept the</tspan><tspan x="1867.6" y="311">offer.</tspan></text></g>
<g id="s40"><rect class="y" x="1840.6" y="328.3" width="54" height="54.4"/><text class="k" font-size="3.2"><tspan class="h" x="1867.6" y="333.3" font-size="3.9">Contingent Job Offer</tspan><tspan class="h" x="1867.6" y="339" font-size="3.9">Contingent Offer -</tspan><tspan class="h" x="1867.6" y="344.3" font-size="3.9">Written</tspan><tspan x="1867.6" y="350.3">As a Hiring Manager or HRO</tspan><tspan x="1867.6" y="356">Specialist, I want to email a</tspan><tspan x="1867.6" y="361.3">contingent job offer to a</tspan><tspan x="1867.6" y="366.7">candidate so that they can</tspan><tspan x="1867.6" y="372">review and accept the</tspan><tspan x="1867.6" y="377.3">offer.</tspan></text></g>
<g id="s41"><rect class="y" x="2054.5" y="267.7" width="54.2" height="54"/><text class="k l" font-size="2.9"><tspan class="h" x="2057" y="275.7">Interview Management</tspan><tspan class="h" x="2057" y="280.6">Reference Check Manual</tspan><tspan x="2057" y="285.6">(part of application, validate</tspan><tspan x="2057" y="290.5">process) As an HR Specialist, I</tspan><tspan x="2057" y="295.5">want the process of checking</tspan><tspan x="2057" y="300.4">references automated, so that</tspan><tspan x="2057" y="305.4">I can execute the process</tspan><tspan x="2057" y="310.3">quickly and efficiently to</tspan><tspan x="2057" y="315.3">move the candidate forward.</tspan></text></g>
<g id="s42"><rect class="y" x="810.8" y="768.3" width="62.9" height="63.4"/><text class="k" font-size="3.9"><tspan class="h" x="842.2" y="774.7">Navy DHA Career Site</tspan><tspan class="h" x="842.2" y="780">Search Postings</tspan><tspan class="h" x="842.2" y="785.7">- Lead</tspan><tspan x="842.2" y="791">As a candidate, I want to</tspan><tspan x="842.2" y="796.7">be able to search and filter</tspan><tspan x="842.2" y="802.3">DHA Flyer job</tspan><tspan x="842.2" y="808.3">announcements so that I</tspan><tspan x="842.2" y="814">can view data in a</tspan><tspan x="842.2" y="819.7">structured format based</tspan><tspan x="842.2" y="825.3">on their preference.</tspan></text></g>
<g id="s43"><rect class="y" x="978.6" y="768.3" width="62.4" height="63.4"/><text class="k l" font-size="3.5"><tspan class="h" x="1009.8" y="774" text-anchor="middle">Navy DHA Career Site</tspan><tspan class="h" x="1009.8" y="779" text-anchor="middle">Candidate Searchable</tspan><tspan x="981.5" y="784.3">As a candidate, I would like to</tspan><tspan x="981.5" y="789.7">be able to make my profile</tspan><tspan x="981.5" y="795">and resume(s) searchable by</tspan><tspan x="981.5" y="800">all hiring managers so they</tspan><tspan x="981.5" y="805">can find me, if I am a</tspan><tspan x="981.5" y="810.3">potential qualified match for</tspan><tspan x="981.5" y="815.3">one of their vacancy so I can</tspan><tspan x="981.5" y="820.7">be considered for the</tspan><tspan x="981.5" y="826">vacancy.</tspan></text></g>
<g id="s44"><rect class="y" x="728.7" y="922.3" width="54.7" height="55.4"/><text class="k l" font-size="3.3"><tspan class="h" x="756" y="930.3" text-anchor="middle">Navy DHA Career Site</tspan><tspan class="h" x="756" y="935.3" text-anchor="middle">Career Website Branding</tspan><tspan x="731" y="940.3">As a marketing user, I want</tspan><tspan x="731" y="945.3">to ensure that the branding</tspan><tspan x="731" y="950.3">on the Navy DHA Career site</tspan><tspan x="731" y="955">matches either the National</tspan><tspan x="731" y="960">Call to Maritime Service or</tspan><tspan x="731" y="964.7">Navy Civilian Recruiting</tspan><tspan x="731" y="969.7">Branding.</tspan></text></g>
<g id="s45"><rect class="y" x="466.5" y="922.3" width="55.6" height="55.4"/><text class="k" font-size="8.4"><tspan class="h" x="494.3" y="931.7">Navy DHA</tspan><tspan class="h" x="494.3" y="941">Career Site</tspan><tspan x="494.3" y="950.7">Create Navy</tspan><tspan x="494.3" y="960.3">DHA Career</tspan><tspan x="494.3" y="970">Site</tspan></text></g>
<g id="s46"><rect class="y" x="1309.7" y="900" width="58.8" height="59"/><text class="k" font-size="3.4"><tspan class="h" x="1339.1" y="906.7">Events Management</tspan><tspan class="h" x="1339.1" y="911.7">Create Campaigns</tspan><tspan x="1339.1" y="916.6">As a marketing user, I would</tspan><tspan x="1339.1" y="921.6">like to create campaigns for</tspan><tspan x="1339.1" y="926.5">non-event marketing activity</tspan><tspan x="1339.1" y="931.5">to allow management of the</tspan><tspan x="1339.1" y="936.4">campaign and reporting on</tspan><tspan x="1339.1" y="941.4">ROI of each campaign to</tspan><tspan x="1339.1" y="946.3">provide insights on the most</tspan><tspan x="1339.1" y="951.3">effective campaigns.</tspan></text></g>
<g id="s47"><rect class="y" x="1385" y="900" width="59" height="59"/><text class="k" font-size="4"><tspan class="h" x="1414.5" y="907" font-size="3.6">Events Management</tspan><tspan class="h" x="1414.5" y="913" font-size="3.6">Target Outreach</tspan><tspan x="1414.5" y="919.7">As a marketing user, I</tspan><tspan x="1414.5" y="926">would like the ability to</tspan><tspan x="1414.5" y="932">segment potential</tspan><tspan x="1414.5" y="938.7">applicants so that</tspan><tspan x="1414.5" y="944.7">outreach to them is more</tspan><tspan x="1414.5" y="951">targeted and effective.</tspan></text></g>
<g id="s48"><rect class="y" x="1527.4" y="900" width="58.8" height="60"/><text class="k" font-size="3.1"><tspan class="h" x="1556.8" y="907.3">Events Management</tspan><tspan class="h" x="1556.8" y="912.3">Submit Event</tspan><tspan x="1556.8" y="917.2">As a marketing, command or</tspan><tspan x="1556.8" y="922.2">community user, I would like the</tspan><tspan x="1556.8" y="927.2">ability to create events within</tspan><tspan x="1556.8" y="932.2">the system and submit them for</tspan><tspan x="1556.8" y="937.1">approval, so that OEM can have</tspan><tspan x="1556.8" y="942.1">streamlined processes for</tspan><tspan x="1556.8" y="947.1">entering events and capture the</tspan><tspan x="1556.8" y="952">rationale and results for events.</tspan></text></g>
<g id="s49"><rect class="y" x="1606.9" y="900" width="59.7" height="60"/><text class="k" font-size="3.2"><tspan class="h" x="1636.7" y="907.3">Events Management</tspan><tspan class="h" x="1636.7" y="912.4">Events - Logistics</tspan><tspan x="1636.7" y="917.6">As a</tspan><tspan x="1636.7" y="922.7">marketing/command/recruiter</tspan><tspan x="1636.7" y="927.9">user, I would like to be able to</tspan><tspan x="1636.7" y="933">capture the logistics</tspan><tspan x="1636.7" y="938.2">associated with an event on</tspan><tspan x="1636.7" y="943.3">the campaign record so that I</tspan><tspan x="1636.7" y="948.5">can easily reference it and</tspan><tspan x="1636.7" y="953.6">re-utilize the details.</tspan></text></g>
<g id="s50"><rect class="y" x="1685.8" y="900" width="59.7" height="60"/><text class="k" font-size="3.1"><tspan class="h" x="1715.6" y="908.7">Applicant Engagement</tspan><tspan x="1715.6" y="913.6"><tspan class="h">Publish Event</tspan> As a marketing,</tspan><tspan x="1715.6" y="918.6">command or community user, I</tspan><tspan x="1715.6" y="923.5">would like the ability to add an</tspan><tspan x="1715.6" y="928.5">event to the events calendar on</tspan><tspan x="1715.6" y="933.4">the Navy DHA Career site, after it</tspan><tspan x="1715.6" y="938.4">is approved, so that prospects</tspan><tspan x="1715.6" y="943.3">and candidates can find and</tspan><tspan x="1715.6" y="948.3">attend events.</tspan></text></g>
<g id="s51"><rect class="y" x="1919" y="900" width="59.3" height="59.3"/><text class="k" font-size="3.2"><tspan class="h" x="1948.6" y="906.7">Events Management</tspan><tspan class="h" x="1948.6" y="911.9">Event-Virtual</tspan><tspan x="1948.6" y="917.1">As a</tspan><tspan x="1948.6" y="922.2">marketing/command/recruiter</tspan><tspan x="1948.6" y="927.4">user, I would like to be able to</tspan><tspan x="1948.6" y="932.6">support virtual recruitment</tspan><tspan x="1948.6" y="937.8">events so that we maximize the</tspan><tspan x="1948.6" y="942.9">number of qualified leads /</tspan><tspan x="1948.6" y="948.1">candidates we get from each</tspan><tspan x="1948.6" y="953.3">event.</tspan></text></g>
<g id="s52"><rect class="y" x="1919" y="966.7" width="59.3" height="59.3"/><text class="k" font-size="2.9"><tspan class="h" x="1948.6" y="973.3">Events Management</tspan><tspan class="h" x="1948.6" y="977.8">In-Person Intake of Lead or</tspan><tspan class="h" x="1948.6" y="982.2">Candidate</tspan><tspan x="1948.6" y="986.7">As a Hiring Manager, I would like to</tspan><tspan x="1948.6" y="991.2">be able to meet with a candidate</tspan><tspan x="1948.6" y="995.7">who does not have an appointment</tspan><tspan x="1948.6" y="1000.1">and enter or have the candidate</tspan><tspan x="1948.6" y="1004.6">enter candidate application</tspan><tspan x="1948.6" y="1009.1">information on a mobile device so</tspan><tspan x="1948.6" y="1013.5">that an application can be created</tspan><tspan x="1948.6" y="1018">for the candidate.</tspan></text></g>
<g id="s53"><rect class="y" x="1687.2" y="750" width="59.2" height="60"/><text class="k" font-size="3.4"><tspan class="h" x="1716.8" y="759.3">Events Management</tspan><tspan class="h" x="1716.8" y="764.7">Event Search</tspan><tspan x="1716.8" y="770.1">As a lead, I would like the</tspan><tspan x="1716.8" y="775.6">Navy DHA career site to show</tspan><tspan x="1716.8" y="781">me events that are relevant to</tspan><tspan x="1716.8" y="786.4">my location and interests so</tspan><tspan x="1716.8" y="791.8">that I can attend and/or</tspan><tspan x="1716.8" y="797.2">register to learn more about</tspan><tspan x="1716.8" y="802.7">Navy Civilian careers.</tspan></text></g>
<g id="s54"><rect class="b" x="1920.9" y="754" width="52.4" height="52.7"/><text class="g l" font-size="3.5"><tspan x="1926.5" y="760.7">• Check In</tspan><tspan x="1926.5" y="765.7">• Register for Navy</tspan><tspan x="1929.6" y="770.6">DHA Career Site</tspan><tspan x="1929.6" y="775.6">Account</tspan><tspan x="1926.5" y="780.5">• Provide Resume</tspan><tspan x="1926.5" y="785.5">• Meet with Hiring</tspan><tspan x="1929.6" y="790.4">Managers (Interview)</tspan><tspan x="1926.5" y="795.4">• Begin Security</tspan><tspan x="1929.6" y="800.3">Processes</tspan></text></g>
</svg>
